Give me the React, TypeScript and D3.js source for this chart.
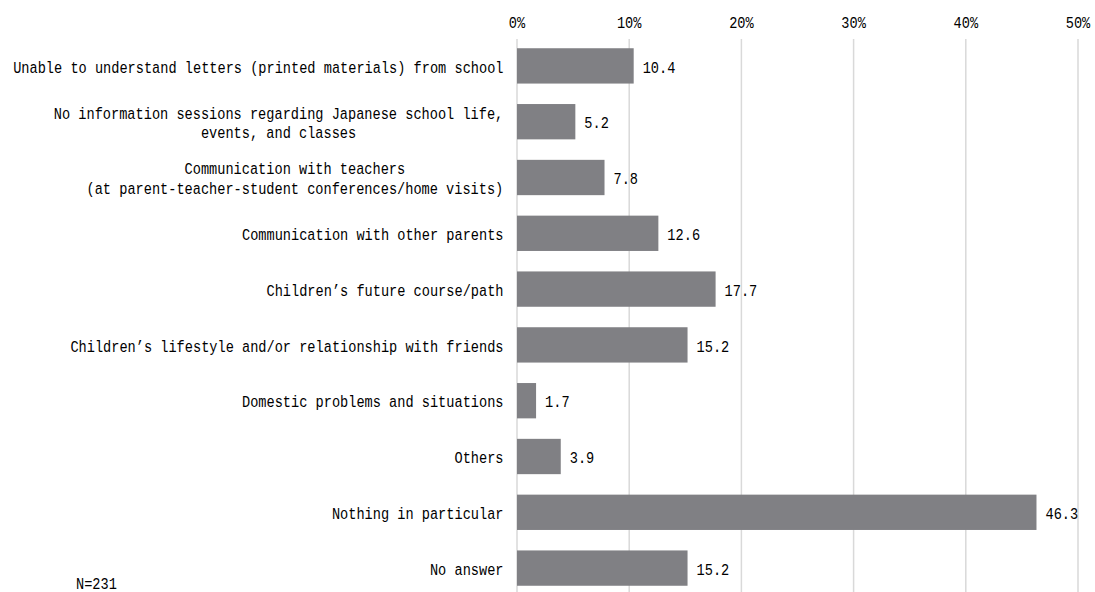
import React from "react";
import * as d3 from "d3";

const categories: string[][] = [
  ["Unable to understand letters (printed materials) from school"],
  ["No information sessions regarding Japanese school life,", "events, and classes"],
  ["Communication with teachers", "(at parent-teacher-student conferences/home visits)"],
  ["Communication with other parents"],
  ["Children’s future course/path"],
  ["Children’s lifestyle and/or relationship with friends"],
  ["Domestic problems and situations"],
  ["Others"],
  ["Nothing in particular"],
  ["No answer"],
];
const values: number[] = [10.4, 5.2, 7.8, 12.6, 17.7, 15.2, 1.7, 3.9, 46.3, 15.2];
const tickValues: number[] = [0, 10, 20, 30, 40, 50];
const note = "N=231";

const W = 1095;
const H = 592;
const FONT = "'Liberation Mono', 'DejaVu Sans Mono', monospace";
const FS = 17;
const SX = 0.802;
const CELL = FS * 0.6 * SX;
const LABEL_RIGHT = 503.5;
const BAR_COLOR = "#808084";
const GRID_COLOR = "#d9d9d9";

export default function App() {
  const keys = categories.map((c) => c.join(" "));
  const x = d3.scaleLinear().domain([0, 50]).range([517, 1078]);
  const y = d3
    .scaleBand<string>()
    .domain(keys)
    .range([38, 596])
    .paddingInner(0.367)
    .paddingOuter(0.1835);
  const bw = y.bandwidth();
  const fmt = d3.format(".1f");
  const pct = (t: number) => `${t}%`;

  const txt = (
    key: string,
    tx: number,
    ty: number,
    s: string,
    anchor: "start" | "middle" | "end"
  ) => (
    <text
      key={key}
      transform={`translate(${tx},${ty}) scale(${SX},1)`}
      textAnchor={anchor}
      fontFamily={FONT}
      fontSize={FS}
      fill="#000"
    >
      {s}
    </text>
  );

  return (
    <div style={{ position: "absolute", left: 0, top: 0 }}>
      <svg width={W} height={H} style={{ display: "block", background: "#fff" }}>
        <g>
          {tickValues.map((t) => (
            <line
              key={`g${t}`}
              x1={x(t)}
              x2={x(t)}
              y1={39}
              y2={596}
              stroke={GRID_COLOR}
              strokeWidth={1.5}
            />
          ))}
          {tickValues.map((t) => txt(`t${t}`, x(t), 28.3, pct(t), "middle"))}
        </g>
        <g>
          {keys.map((k, i) => (
            <rect
              key={`b${i}`}
              x={x(0)}
              y={y(k)!}
              width={x(values[i]) - x(0)}
              height={bw}
              fill={BAR_COLOR}
            />
          ))}
          {keys.map((k, i) =>
            txt(`v${i}`, x(values[i]) + 9, y(k)! + bw / 2 + 6.6, fmt(values[i]), "start")
          )}
        </g>
        <g>
          {categories.map((lines, i) => {
            const c = y(keys[i])! + bw / 2;
            if (lines.length === 1) {
              return txt(`l${i}`, LABEL_RIGHT, c + 6.6, lines[0], "end");
            }
            const maxLen = d3.max(lines, (l) => l.length) || 0;
            const cx = LABEL_RIGHT - (maxLen * CELL) / 2;
            const gap = 19.5;
            const top = c + 6.6 - (gap * (lines.length - 1)) / 2;
            return (
              <g key={`l${i}`}>
                {lines.map((l, j) => txt(`l${i}_${j}`, cx, top + j * gap, l, "middle"))}
              </g>
            );
          })}
        </g>
        {txt("note", 76, 588.5, note, "start")}
      </svg>
    </div>
  );
}
